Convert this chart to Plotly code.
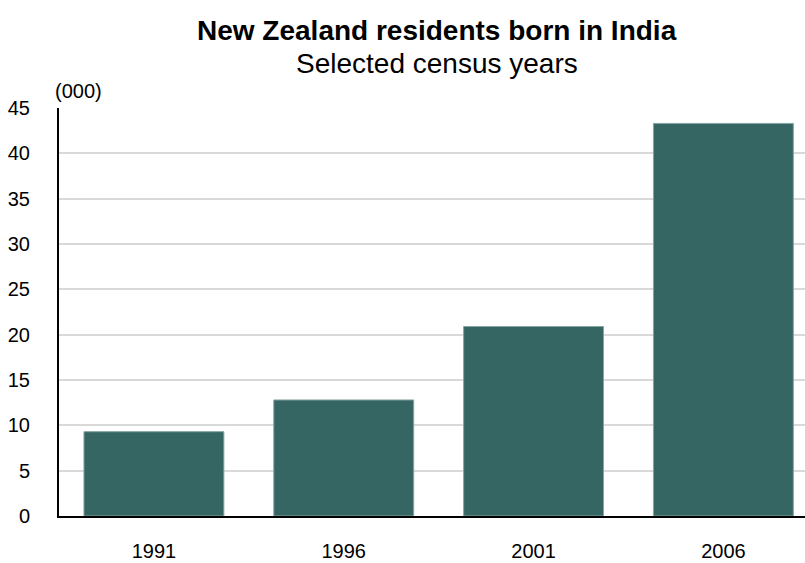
import plotly.graph_objects as go

years = ["1991", "1996", "2001", "2006"]
residents_000 = [9.3, 12.8, 20.9, 43.3]
y_ticks = [0, 5, 10, 15, 20, 25, 30, 35, 40, 45]

title_text = "New Zealand residents born in India"
subtitle_text = "Selected census years"
unit_text = "(000)"

FONT = "Liberation Sans, Arial, sans-serif"

fig = go.Figure(
    go.Bar(
        x=years,
        y=residents_000,
        marker=dict(color="#356664", line=dict(color="#86a5a3", width=1)),
    )
)

fig.update_layout(
    width=805,
    height=563,
    margin=dict(l=59, r=0, t=108, b=47),
    paper_bgcolor="white",
    plot_bgcolor="white",
    bargap=0.263,
    showlegend=False,
    font=dict(family=FONT, color="black", size=20),
    xaxis=dict(
        type="category",
        range=[-0.5, 3.43],
        automargin=False,
        showgrid=False,
        showline=True,
        linecolor="black",
        linewidth=2,
        ticks="",
        ticklabelstandoff=16,
        tickfont=dict(size=20),
        zeroline=False,
    ),
    yaxis=dict(
        range=[0, 45],
        tickvals=y_ticks,
        automargin=False,
        showgrid=True,
        gridcolor="#d9d9d9",
        gridwidth=2,
        showline=True,
        linecolor="black",
        linewidth=2,
        ticks="",
        ticklabelstandoff=23,
        tickfont=dict(size=20),
        zeroline=False,
    ),
    annotations=[
        dict(text="<b>" + title_text + "</b>", xref="paper", yref="paper",
             x=0.507, y=1.191, xanchor="center", yanchor="middle",
             showarrow=False, font=dict(size=28, family=FONT, color="black")),
        dict(text=subtitle_text, xref="paper", yref="paper",
             x=0.507, y=1.108, xanchor="center", yanchor="middle",
             showarrow=False, font=dict(size=28, family=FONT, color="black")),
        dict(text=unit_text, xref="paper", yref="paper",
             x=0.0255, y=1.0416, xanchor="center", yanchor="middle",
             showarrow=False, font=dict(size=20, family=FONT, color="black")),
    ],
)

fig.write_html("out.html")
